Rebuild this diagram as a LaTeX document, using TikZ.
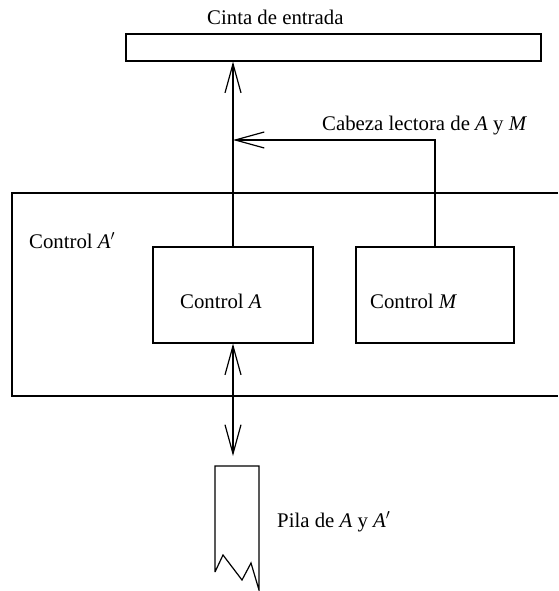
\documentclass[tikz,border=0pt]{standalone}
\usepackage{fontspec}
\setmainfont{Liberation Serif}
\usetikzlibrary{arrows.meta}
\tikzset{
  ln/.style={line width=1.2pt, line join=miter},
  barb/.style={-{Straight Barb[length=29pt,width=16pt,line width=1.2pt]}},
  dbarb/.style={{Straight Barb[length=29pt,width=16pt,line width=1.2pt]}-{Straight Barb[length=29pt,width=16pt,line width=1.2pt]}},
  box/.style={draw, ln, rectangle, inner sep=0pt},
  lbl/.style={inner sep=0pt, anchor=base west, font=\fontsize{20.8}{24}\selectfont}
}
\begin{document}
\begin{tikzpicture}[x=1pt,y=-1pt]
\useasboundingbox (0,0) rectangle (558,591);
% tape
\node[box, minimum width=415pt, minimum height=27pt] (tape) at (333.5,47.5) {};
\node[lbl] (tapelbl) at (207,25) {Cinta de entrada};
% outer control A'
\draw[ln] (558,193) -- (12,193) -- (12,396) -- (558,396);
\node[lbl] (outerlbl) at (29,248) {Control \textit{A}$'$};
% inner boxes
\node[box, minimum width=160pt, minimum height=96pt] (ctrlA) at (233,295) {};
\node[lbl] (ctrlAlbl) at (180,308) {Control \textit{A}};
\node[box, minimum width=158pt, minimum height=96pt] (ctrlM) at (435,295) {};
\node[lbl] (ctrlMlbl) at (370,308) {Control \textit{M}};
% connectors
\draw[ln, barb] (ctrlA.north) -- (ctrlA.north |- tape.south);
\coordinate (join) at (233,140);
\draw[ln, barb] (ctrlM.north) |- (join);
\node[lbl] (headlbl) at (322,131) {Cabeza lectora de \textit{A} y \textit{M}};
% stack
\coordinate (stacktip) at (233,456);
\draw[ln, dbarb] (ctrlA.south) -- (stacktip);
\draw[ln] (215,572) -- (215,466) -- (259,466) -- (259,590)
  -- (251,563) -- (242,580) -- (223,555) -- (215,572);
\node[lbl] (stacklbl) at (277,527) {Pila de \textit{A} y \textit{A}$'$};
\end{tikzpicture}
\end{document}
